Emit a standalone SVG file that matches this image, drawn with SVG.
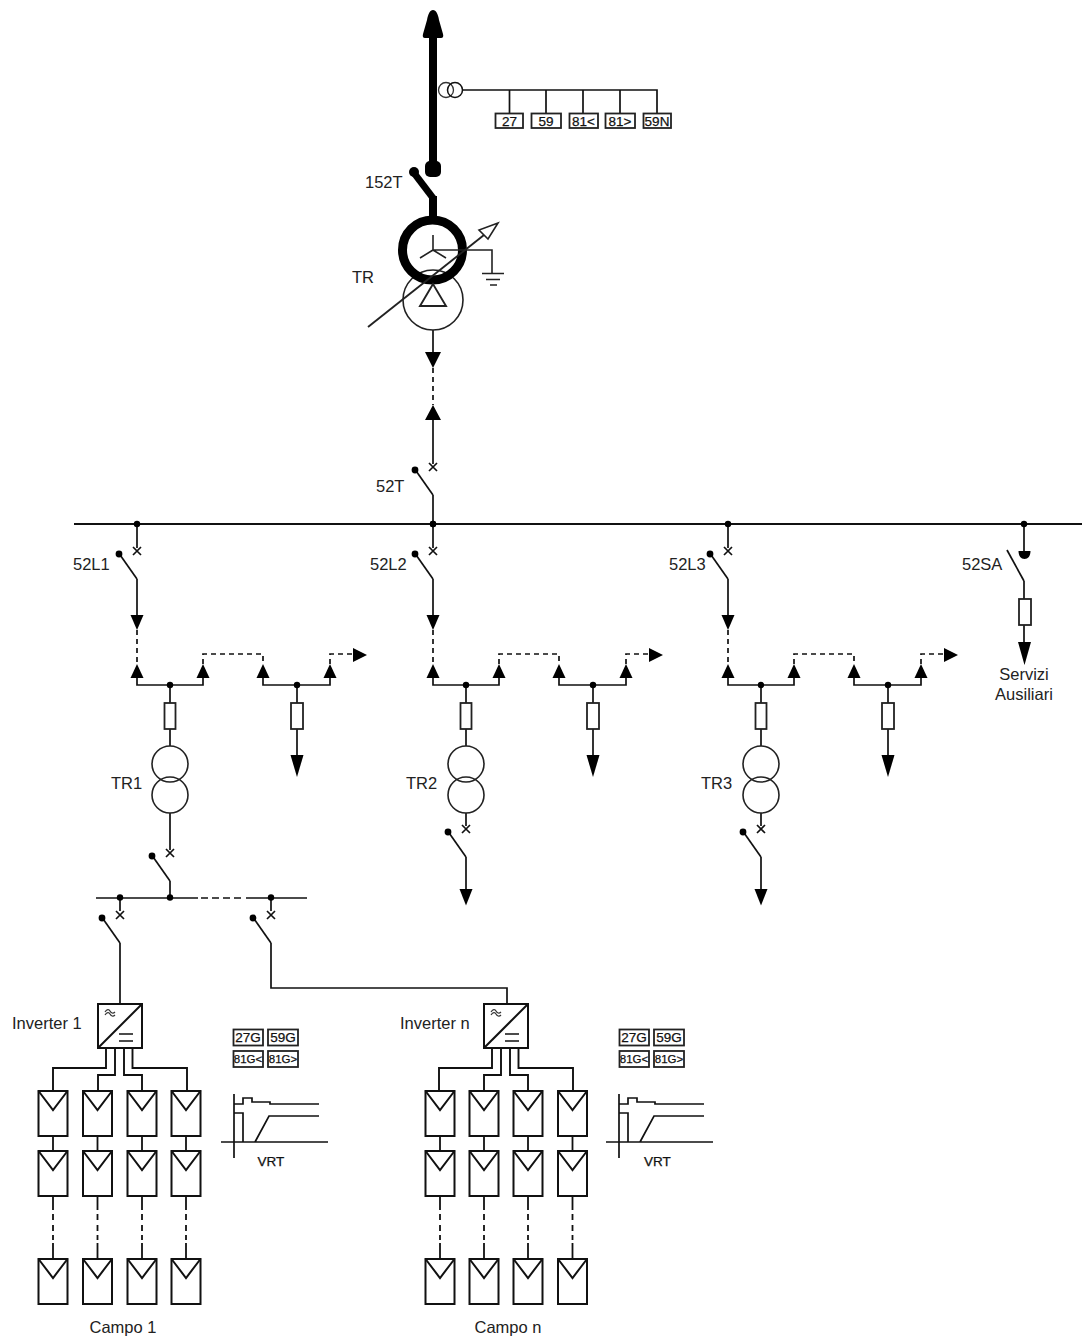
<svg xmlns="http://www.w3.org/2000/svg" width="1082" height="1338" viewBox="0 0 1082 1338">
<style>
text{font-family:"Liberation Sans",Arial,sans-serif;font-size:16.5px;fill:#222}
.w{fill:none;stroke:#111;stroke-width:1.7}
.b{fill:none;stroke:#111;stroke-width:2}
.thin{fill:none;stroke:#222;stroke-width:1.6}
.d{fill:none;stroke:#111;stroke-width:1.7;stroke-dasharray:5 4}
.f{fill:#000;stroke:none}
.box{fill:#fff;stroke:#222;stroke-width:1.8}
.r{font-size:13.5px;text-anchor:middle;fill:#111;stroke:#111;stroke-width:.25}
.rs{font-size:11.5px;text-anchor:middle;fill:#111;stroke:#111;stroke-width:.25}
.c{text-anchor:middle}
</style>
<defs>
<g id="breaker"><path class="w" d="M-4 -32L4 -24M4 -32L-4 -24"/><path class="w" d="M0 0L-19 -27"/><circle class="f" cx="-18" cy="-25" r="3.400"/></g>
<path id="au" class="f" d="M0 -14L6.500 0H-6.500Z"/>
<path id="ad" class="f" d="M-6.500 0H6.500L0 15Z"/>
<path id="adl" class="f" d="M-6.500 0H6.500L0 22Z"/>
<rect id="fuse" class="box" x="-5.500" y="0" width="11" height="26"/>
<rect id="fuse2" class="box" x="-6" y="0" width="12" height="26"/>
<g id="tx"><circle class="thin" cx="0" cy="18" r="18"/><circle class="thin" cx="0" cy="49" r="18"/></g>
<g id="panel"><rect class="b" x="-14.500" y="0" width="29" height="45"/><path class="b" d="M-14.500 0L0 19L14.500 0"/></g>
<g id="feeder-wires">
<path class="w" d="M137 524V548M137 579V616M137 677V685H203V677M263 677V685H330V677M170 685V746M297 685V756"/>
<path class="d" d="M137 630V664M203 664V654H263V664M330 664V654H353"/>
</g>
<g id="feeder-nodes">
<circle class="f" cx="137" cy="524" r="3.200"/>
<use href="#breaker" x="137" y="579"/>
<use href="#ad" x="137" y="615"/>
<use href="#au" x="137" y="678"/><use href="#au" x="203" y="678"/><use href="#au" x="263" y="678"/><use href="#au" x="330" y="678"/>
<path class="f" d="M353 648L367 655L353 662Z"/>
<circle class="f" cx="170" cy="685" r="3.200"/><circle class="f" cx="297" cy="685" r="3.200"/>
<use href="#fuse" x="170" y="703"/><use href="#fuse2" x="297" y="703"/>
<use href="#adl" x="297" y="755"/>
<use href="#tx" x="170" y="746"/>
</g>
<g id="strings-wires">
<path class="w" style="stroke-width:1.900" d="M106 1048V1068H53V1091M115 1048V1075H98V1091M124 1048V1075H142V1091M132.500 1048V1068H187V1091"/>
</g>
<g id="column"><use href="#panel" y="1091"/><use href="#panel" y="1151"/><use href="#panel" y="1259"/>
<path class="w" style="stroke-width:1.800" d="M0 1136V1151M0 1196V1210M0 1243V1259M0 1214V1220M0 1225V1231M0 1235V1240"/></g>
<g id="inverter"><rect class="b" x="98" y="1004" width="44" height="44"/><path class="b" d="M98 1048L142 1004"/>
<path class="b" style="stroke-width:1.300" d="M119 1034H133M119 1041H133"/>
<path style="fill:none;stroke:#333;stroke-width:1.200" d="M105 1012C107 1009 109 1009 110 1011S113 1014 115 1012M105 1015C107 1012 109 1012 110 1014S113 1017 115 1015"/></g>
<g id="relays"><rect class="box" x="233.500" y="1029.500" width="29.500" height="16"/><rect class="box" x="268" y="1029.500" width="30" height="16"/><rect class="box" x="233.500" y="1051" width="29.500" height="16"/><rect class="box" x="268" y="1051" width="30" height="16"/>
<text class="r" x="248" y="1042">27G</text><text class="r" x="283" y="1042">59G</text><text class="rs" x="248" y="1063">81G&lt;</text><text class="rs" x="283" y="1063">81G&gt;</text></g>
<path id="vrt" class="w" d="M234 1094V1158M221 1142H328M234 1104H243V1098H252V1102H270V1104H319M234 1113H243V1142M255 1142L269 1116H319"/>
</defs>

<g id="connectors">
<path class="w" style="stroke-width:1.800" d="M74 524H1082"/>
<path fill="none" stroke="#000" stroke-width="8" d="M433 34V166M433 196V218"/>
<path fill="none" stroke="#000" stroke-width="7" d="M414 173L433 198"/>
<path class="w" d="M463 90H657V113M509.500 90V113M546 90V113M583 90V113M620 90V113"/>
<path class="w" d="M433 330V353M433 420V464M433 495V524"/>
<path class="d" d="M433 368V405"/>
<use href="#feeder-wires"/><use href="#feeder-wires" x="296"/><use href="#feeder-wires" x="591"/>
<path class="w" d="M1024 524V552M1024 581V643"/>
<path class="w" d="M170 813V850M170 881V898M466 813V826M466 857V889M761 813V826M761 857V889"/>
<path class="w" d="M96 898H198M246 898H307M120 898V911M271 898V911M120 943V1005M271 943V988H507V1005"/>
<path class="w" style="stroke-dasharray:7 4" d="M201 898H245"/>
<use href="#strings-wires"/><use href="#strings-wires" x="386"/>
</g>

<g id="node-line-arrow"><path class="f" d="M433 10C436 10 438 14 439 20L443 34Q444 38 441 38H425Q422 38 423 34L427 20C428 14 430 10 433 10Z"/></g>
<g id="node-ct"><circle cx="446" cy="90" r="7.500" fill="none" stroke="#333" stroke-width="1.300"/><circle cx="455" cy="90" r="7.500" fill="none" stroke="#111" stroke-width="1.500"/></g>
<g id="node-relay-27"><rect class="box" x="495.500" y="113.500" width="27.500" height="14.500"/><text class="r" x="509.500" y="125.500">27</text></g>
<g id="node-relay-59"><rect class="box" x="531.500" y="113.500" width="29.500" height="14.500"/><text class="r" x="546" y="125.500">59</text></g>
<g id="node-relay-81l"><rect class="box" x="569.500" y="113.500" width="28.500" height="14.500"/><text class="r" x="583.500" y="125.500">81&lt;</text></g>
<g id="node-relay-81h"><rect class="box" x="605.500" y="113.500" width="29.500" height="14.500"/><text class="r" x="620" y="125.500">81&gt;</text></g>
<g id="node-relay-59n"><rect class="box" x="643.500" y="113.500" width="27.500" height="14.500"/><text class="r" x="657" y="125.500">59N</text></g>
<g id="node-152T"><circle class="f" cx="414" cy="172" r="5"/><rect class="f" x="425" y="161" width="16" height="16" rx="5"/><text x="365" y="188">152T</text></g>
<g id="node-TR">
<circle cx="433" cy="300" r="30" fill="none" stroke="#222" stroke-width="1.600"/>
<circle cx="432.500" cy="250" r="30" fill="none" stroke="#000" stroke-width="9"/>
<path class="thin" d="M433 250V235M433 250L420 258M433 250L446 258M433 250H492V273M482 273.500H504M486 279.500H500M490 285H497"/>
<path class="thin" style="stroke-width:1.900" d="M433 284L420 306H446Z"/>
<path class="thin" style="stroke-width:1.900" d="M368 327L484 235"/>
<path fill="#fff" stroke="#222" stroke-width="1.600" d="M498 223L479 230L488 239Z"/>
<text x="352" y="283">TR</text>
</g>
<g id="node-52T">
<path class="f" d="M425 352H441L433 368Z"/>
<path class="f" d="M433 405L441 420H425Z"/>
<use href="#breaker" x="433" y="495"/><circle class="f" cx="433" cy="524" r="3.200"/><text x="376" y="492">52T</text></g>
<g id="node-feeder-1"><use href="#feeder-nodes"/><text x="73" y="570">52L1</text><text x="111" y="789">TR1</text></g>
<g id="node-feeder-2"><use href="#feeder-nodes" x="296"/><text x="370" y="570">52L2</text><text x="406" y="789">TR2</text></g>
<g id="node-feeder-3"><use href="#feeder-nodes" x="591"/><text x="669" y="570">52L3</text><text x="701" y="789">TR3</text></g>
<g id="node-52SA"><circle class="f" cx="1024" cy="524" r="3.200"/><path class="f" d="M1018.500 551H1030.500C1030.500 556 1028 559 1024.500 559S1018.500 556 1018.500 551Z"/><path class="w" d="M1024 581L1007 550"/><use href="#fuse2" x="1025" y="599"/><path class="f" d="M1018 642H1031L1024.500 665Z"/><text x="962" y="570">52SA</text><text class="c" x="1024" y="680">Servizi</text><text class="c" x="1024" y="700">Ausiliari</text></g>
<g id="node-bus-tr1"><use href="#breaker" x="170" y="881"/><circle class="f" cx="170" cy="897.500" r="3.200"/><circle class="f" cx="120" cy="897.500" r="3.200"/><circle class="f" cx="271" cy="897.500" r="3.200"/><use href="#breaker" x="120" y="943"/><use href="#breaker" x="271" y="943"/></g>
<g id="node-out-tr2"><use href="#breaker" x="466" y="857"/><use href="#ad" transform="translate(466 889) scale(1 1.100)"/></g>
<g id="node-out-tr3"><use href="#breaker" x="761" y="857"/><use href="#ad" transform="translate(761 889) scale(1 1.100)"/></g>
<g id="node-inverter-1"><use href="#inverter"/><text x="12" y="1029">Inverter 1</text></g>
<g id="node-inverter-n"><use href="#inverter" x="386"/><text x="400" y="1029">Inverter n</text></g>
<g id="node-relays-1"><use href="#relays"/></g>
<g id="node-relays-n"><use href="#relays" x="386"/></g>
<g id="node-vrt-1"><use href="#vrt"/><text class="r" x="271" y="1166">VRT</text></g>
<g id="node-vrt-n"><use href="#vrt" x="385"/><text class="r" x="657.500" y="1166">VRT</text></g>
<g id="node-campo-1"><use href="#column" x="53"/><use href="#column" x="97.500"/><use href="#column" x="142"/><use href="#column" x="186"/><text class="c" x="123" y="1333">Campo 1</text></g>
<g id="node-campo-n"><use href="#column" x="440"/><use href="#column" x="484"/><use href="#column" x="528"/><use href="#column" x="572.500"/><text class="c" x="508" y="1333">Campo n</text></g>
</svg>
